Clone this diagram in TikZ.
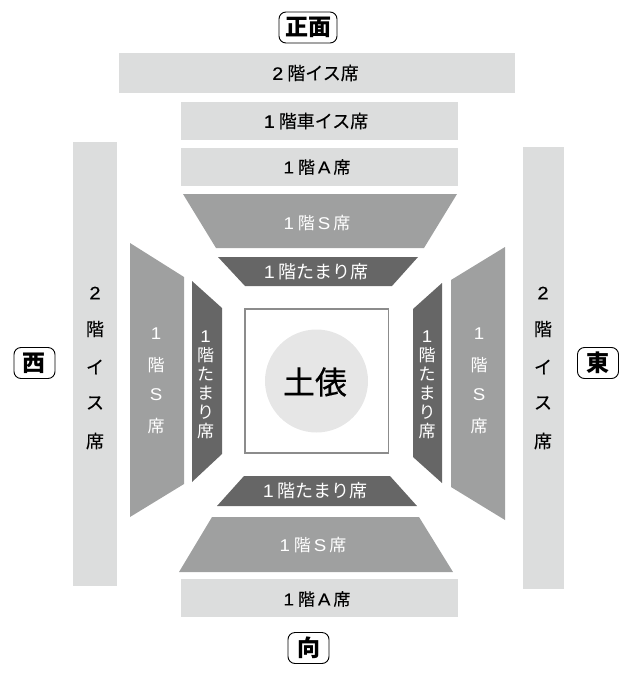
\documentclass[tikz,border=0pt]{standalone}
\usepackage{fontspec}
\setmainfont{Noto Sans CJK JP}
\newfontfamily\latf[FakeStretch=1.1]{Liberation Sans}
\newfontfamily\latb[FakeStretch=1.1,FakeBold=0.3]{Liberation Sans}
\newfontfamily\jpm[FakeBold=0.3]{Noto Sans CJK JP}
\newcommand{\lat}[1]{{\latf #1}}
\newcommand{\latk}[1]{{\latb #1}}
\definecolor{seatlight}{HTML}{DCDDDD}
\definecolor{seatmid}{HTML}{9FA0A0}
\definecolor{seatdark}{HTML}{666666}
\definecolor{ringgray}{HTML}{E6E6E6}
\definecolor{ringline}{HTML}{8C8C8C}
\tikzset{
  lightseat/.style={fill=seatlight,draw=none},
  midseat/.style={fill=seatmid,draw=none},
  darkseat/.style={fill=seatdark,draw=none},
  blk/.style={text=black,inner sep=0pt,font=\fontsize{18}{18}\selectfont\jpm},
  blks/.style={text=black,inner sep=0pt,font=\fontsize{17}{17}\selectfont\jpm},
  wht/.style={text=white,inner sep=0pt,font=\fontsize{18}{18}\selectfont},
  whts/.style={text=white,inner sep=0pt,font=\fontsize{17}{17}\selectfont},
  dirbox/.style={draw=black,line width=0.9pt,rounded corners=7pt,fill=white,minimum height=31pt,inner sep=0pt,font=\fontsize{23}{23}\selectfont\bfseries},
}
\begin{document}
\begin{tikzpicture}[x=1pt,y=-1pt]
\useasboundingbox (0,0) rectangle (620,675);
% light seats
\fill[lightseat] (119,53) rectangle (515,93);
\fill[lightseat] (181,102) rectangle (458,140);
\fill[lightseat] (181,148) rectangle (458,186);
\fill[lightseat] (181,579) rectangle (458,617);
\fill[lightseat] (73,142) rectangle (117,586);
\fill[lightseat] (523,147) rectangle (564,589);
% mid seats
\fill[midseat] (183,194) -- (457,194) -- (424,248) -- (216,248) -- cycle;
\fill[midseat] (212,517) -- (419,517) -- (453,572) -- (179,572) -- cycle;
\fill[midseat] (130,243) -- (184,277) -- (184,484) -- (130,517) -- cycle;
\fill[midseat] (451,280) -- (505,247) -- (505,520) -- (451,487) -- cycle;
% dark seats
\fill[darkseat] (218,257) -- (418,257) -- (392,286) -- (245,286) -- cycle;
\fill[darkseat] (244,476) -- (390,476) -- (417,506) -- (217,506) -- cycle;
\fill[darkseat] (192,281) -- (222,308) -- (222,454) -- (192,482) -- cycle;
\fill[darkseat] (413,309) -- (442,283) -- (442,483) -- (413,457) -- cycle;
% ring
\draw[ringline,line width=1.5pt] (245,309) rectangle (388.5,453);
\fill[ringgray] (316.5,381) circle (51.5);
\node[text=black,inner sep=0pt,font=\fontsize{32}{32}\selectfont\jpm] (dohyo) at (315,382) {土俵};
% direction labels
\node[dirbox,minimum width=58pt] (front) at (308,27.5) {正面};
\node[dirbox,minimum width=41pt] (west) at (34.5,363) {西};
\node[dirbox,minimum width=41pt] (east) at (598,363) {東};
\node[dirbox,minimum width=41pt] (back) at (308.5,648) {向};
% horizontal labels
\node[blk] (t2f) at (315.5,73) {\latk{2}\hspace{4pt}階イス席};
\node[blk] (tw) at (316,121) {\latk{1}\hspace{4pt}階車イス席};
\node[blks] (ta) at (317,167) {\latk{1}\hspace{4pt}階\hspace{3pt}\latk{A}\hspace{3pt}席};
\node[whts] (ts) at (317,223) {\lat{1}\hspace{4pt}階\hspace{3pt}\lat{S}\hspace{3pt}席};
\node[wht] (tt) at (316,272) {\lat{1}\hspace{4pt}階たまり席};
\node[wht] (bt) at (315,491) {\lat{1}\hspace{4pt}階たまり席};
\node[whts] (bs) at (313,545) {\lat{1}\hspace{4pt}階\hspace{3pt}\lat{S}\hspace{3pt}席};
\node[blks] (ba) at (317,599) {\latk{1}\hspace{4pt}階\hspace{3pt}\latk{A}\hspace{3pt}席};
% vertical labels: outer second floor
\foreach \x/\s in {95/w,543/e}{
  \node[blk] (o1\s) at (\x,293) {\latk{2}};
  \node[blk] (o2\s) at (\x,329) {階};
  \node[blk] (o3\s) at (\x,367) {イ};
  \node[blk] (o4\s) at (\x,403) {ス};
  \node[blk] (o5\s) at (\x,441) {席};
}
% vertical labels: S seats
\foreach \x/\s in {156/w,479/e}{
  \node[whts] (m1\s) at (\x,334) {\lat{1}};
  \node[whts] (m2\s) at (\x,365) {階};
  \node[whts] (m3\s) at (\x,395) {\lat{S}};
  \node[whts] (m4\s) at (\x,426) {席};
}
% vertical labels: tamari
\foreach \x/\s in {205.5/w,427/e}{
  \node[whts] (d1\s) at (\x,337) {\lat{1}};
  \node[whts] (d2\s) at (\x,355) {階};
  \node[whts] (d3\s) at (\x,374) {た};
  \node[whts] (d4\s) at (\x,393) {ま};
  \node[whts] (d5\s) at (\x,412) {り};
  \node[whts] (d6\s) at (\x,431) {席};
}
\end{tikzpicture}
\end{document}
